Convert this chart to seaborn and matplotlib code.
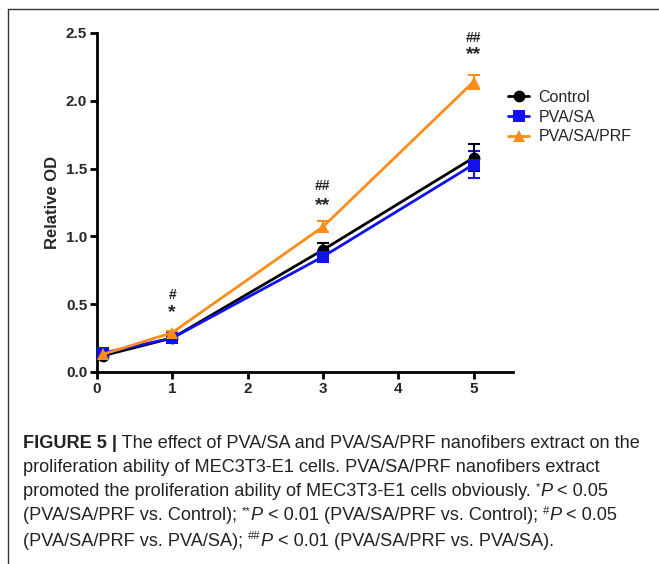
import numpy as np
import pandas as pd
import matplotlib
matplotlib.use("Agg")
import matplotlib.pyplot as plt
import seaborn as sns
from matplotlib.lines import Line2D

# ---- data ----
days = [0.08, 1, 3, 5]
groups = ["Control", "PVA/SA", "PVA/SA/PRF"]
control = [0.12, 0.25, 0.90, 1.58]
control_err = [0.02, 0.02, 0.05, 0.10]
pva_sa = [0.14, 0.25, 0.85, 1.53]
pva_sa_err = [0.02, 0.02, 0.04, 0.10]
pva_sa_prf = [0.13, 0.29, 1.07, 2.14]
pva_sa_prf_err = [0.01, 0.01, 0.04, 0.05]
sig_x = [1, 3, 5]
sig_star = ["*", "**", "**"]
sig_hash = ["#", "##", "##"]
sig_star_y = [0.44, 1.23, 2.34]
sig_hash_y = [0.57, 1.37, 2.46]
x_ticks = [0, 1, 2, 3, 4, 5]
y_ticks = [0.0, 0.5, 1.0, 1.5, 2.0, 2.5]

sns.set_style("ticks")
plt.rcParams['font.family'] = ['Liberation Sans', 'DejaVu Sans']

cap_font = 'Liberation Sans'

df = pd.DataFrame({
    "day": days * 3,
    "od": control + pva_sa + pva_sa_prf,
    "err": control_err + pva_sa_err + pva_sa_prf_err,
    "group": [g for g in groups for _ in days],
})

colors = {"Control": "#000000", "PVA/SA": "#1010F0", "PVA/SA/PRF": "#FF8C1A"}
markers = {"Control": "o", "PVA/SA": "s", "PVA/SA/PRF": "^"}

fig = plt.figure(figsize=(6.59, 5.64), dpi=100)
ax = fig.add_axes([0.147, 0.3405, 0.631, 0.601])

for g in ["PVA/SA/PRF", "PVA/SA", "Control"]:
    sub = df[df.group == g]
    ax.errorbar(sub.day, sub.od, yerr=sub.err, fmt="none", ecolor=colors[g],
                elinewidth=1.5, capsize=4, capthick=1.5, zorder=2)
sns.lineplot(data=df, x="day", y="od", hue="group", style="group",
             hue_order=groups, style_order=groups,
             palette=colors, markers=markers, dashes=False,
             markersize=8.5, linewidth=2, markeredgewidth=0, ax=ax, zorder=3)

for x, s, ys, h, yh in zip(sig_x, sig_star, sig_star_y, sig_hash, sig_hash_y):
    ax.text(x, ys, s, ha="center", va="center", fontsize=14, fontweight="bold")
    ax.text(x, yh, h, ha="center", va="center", fontsize=10, fontweight="bold")

ax.set_xlim(0, 5.52)
ax.set_ylim(0, 2.5)
ax.set_xticks(x_ticks)
ax.set_yticks(y_ticks)
ax.set_xticklabels([str(t) for t in x_ticks], fontweight="bold", fontsize=11)
ax.set_yticklabels([f"{t:.1f}" for t in y_ticks], fontweight="bold", fontsize=11)
ax.set_xlabel("")
ax.set_ylabel("Relative OD", fontweight="bold", fontsize=12, labelpad=4)
for sp in ["top", "right"]:
    ax.spines[sp].set_visible(False)
for sp in ["left", "bottom"]:
    ax.spines[sp].set_linewidth(2)
    ax.spines[sp].set_color("black")
ax.tick_params(width=2, length=5, color="black", pad=2)

leg = ax.legend(loc="upper left", bbox_to_anchor=(0.955, 0.875), frameon=False,
                fontsize=11.5, handlelength=1.3, labelspacing=0.3, handletextpad=0.6)

# frame
fig.add_artist(Line2D([8/659, 1], [1-9/564, 1-9/564], transform=fig.transFigure, color="#333333", lw=1))
fig.add_artist(Line2D([8/659, 8/659], [0, 1-9/564], transform=fig.transFigure, color="#333333", lw=1))

# caption
renderer = fig.canvas.get_renderer()
fs = 13.1
lines = [
    [("FIGURE 5 |", "bold", "normal", False), (" The effect of PVA/SA and PVA/SA/PRF nanofibers extract on the", "normal", "normal", False)],
    [("proliferation ability of MEC3T3-E1 cells. PVA/SA/PRF nanofibers extract", "normal", "normal", False)],
    [("promoted the proliferation ability of MEC3T3-E1 cells obviously. ", "normal", "normal", False), ("*", "normal", "normal", True), ("P", "normal", "italic", False), (" < 0.05", "normal", "normal", False)],
    [("(PVA/SA/PRF vs. Control); ", "normal", "normal", False), ("**", "normal", "normal", True), ("P", "normal", "italic", False), (" < 0.01 (PVA/SA/PRF vs. Control); ", "normal", "normal", False), ("#", "normal", "normal", True), ("P", "normal", "italic", False), (" < 0.05", "normal", "normal", False)],
    [("(PVA/SA/PRF vs. PVA/SA); ", "normal", "normal", False), ("##", "normal", "normal", True), ("P", "normal", "italic", False), (" < 0.01 (PVA/SA/PRF vs. PVA/SA).", "normal", "normal", False)],
]
line_y = [443, 467, 492, 516, 541]
W, H = 659, 564
for parts, yp in zip(lines, line_y):
    xpix = 23
    for txt, wt, st, sup in parts:
        size = fs * 0.62 if sup else fs
        yy = yp - (5 if sup else 0)
        t = fig.text(xpix / W, 1 - yy / H, txt, fontsize=size, fontweight=wt, fontstyle=st,
                     family=[cap_font, 'DejaVu Sans'], ha="left", va="center", color="#222222")
        bb = t.get_window_extent(renderer=renderer)
        xpix += bb.width

fig.savefig("out.png", dpi=100)
